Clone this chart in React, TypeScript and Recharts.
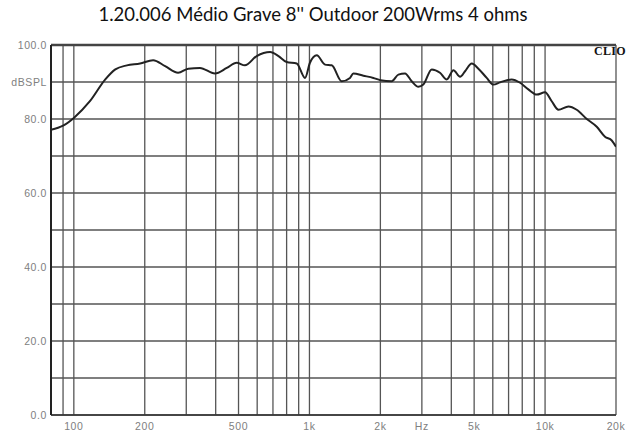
import { LineChart, Line, XAxis, YAxis, CartesianGrid, ReferenceLine } from 'recharts';

const title = "1.20.006 Médio Grave 8'' Outdoor 200Wrms 4 ohms";

// frequency (Hz) and level (dB SPL)
const freqs = [
  80, 90, 100, 117, 136, 150, 168, 191, 217, 244, 277, 306, 343, 397, 446, 491, 532, 597, 681, 739,
  800, 883, 958, 1005, 1074, 1165, 1243, 1371, 1486, 1535, 1694, 1867, 2002, 2234, 2384, 2544, 2716,
  2899, 3043, 3304, 3581, 3827, 4084, 4359, 4575, 4886, 5212, 5654, 6032, 6440, 7211, 7834, 8492,
  9215, 10000, 10670, 11400, 12570, 13620, 15030, 16570, 17960, 19190, 20000,
];
const spl = [
  77.1, 78.2, 80.3, 84.8, 90.7, 93.4, 94.5, 95.0, 95.9, 94.3, 92.5, 93.6, 93.8, 92.3, 93.8, 95.2, 94.5,
  97.0, 98.1, 97.0, 95.4, 95.0, 91.1, 95.2, 97.2, 94.7, 94.5, 90.2, 91.1, 92.3, 91.7, 91.1, 90.5, 90.2,
  92.0, 92.3, 90.2, 88.7, 89.3, 93.4, 92.5, 90.7, 93.2, 91.4, 92.9, 95.0, 93.6, 91.1, 89.3, 89.9, 90.7,
  89.8, 88.0, 86.6, 87.2, 84.8, 82.5, 83.4, 82.5, 80.0, 77.9, 75.2, 74.2, 72.5,
];

const xTicks = [90, 100, 200, 300, 400, 500, 600, 700, 800, 900, 1000, 2000, 3000, 4000, 5000, 6000, 7000, 8000, 9000, 10000, 20000];
const xLabels: Record<number, string> = {
  100: '100', 200: '200', 500: '500', 1000: '1k', 2000: '2k', 3000: 'Hz', 5000: '5k', 10000: '10k', 20000: '20k',
};
const yTicks = [0, 10, 20, 30, 40, 50, 60, 70, 80, 90, 100];
const yLabels: Record<number, string> = {
  0: '0.0', 20: '20.0', 40: '40.0', 60: '60.0', 80: '80.0', 90: 'dBSPL', 100: '100.0',
};

const data = freqs.map((f, i) => ({ f, spl: spl[i] }));

const tickStyle = { fill: '#808080', fontSize: 10.5, fontFamily: 'Liberation Sans, Arial, sans-serif', letterSpacing: 0.6 };

export default function App() {
  return (
    <div style={{ position: 'absolute', left: 0, top: 0, width: 626, height: 434, background: '#fff' }}>
      <div
        style={{
          position: 'absolute', left: 0, top: 1, width: 626, textAlign: 'center',
          fontFamily: 'Lato, "Open Sans", sans-serif', fontSize: 18.5, lineHeight: '26px', color: '#111',
        }}
      >
        {title}
      </div>
      <LineChart width={626} height={434} data={data} margin={{ top: 45, right: 10, bottom: 0, left: 0 }}>
        <CartesianGrid stroke="#555" strokeWidth={1.3} />
        <XAxis
          dataKey="f"
          type="number"
          scale="log"
          domain={[80, 20000]}
          ticks={xTicks}
          interval={0}
          tickFormatter={(v: number) => xLabels[v] ?? ''}
          tick={tickStyle}
          tickLine={false}
          axisLine={{ stroke: '#333', strokeWidth: 1.5 }}
          height={19}
          allowDataOverflow
        />
        <YAxis
          type="number"
          domain={[0, 100]}
          ticks={yTicks}
          interval={0}
          tickFormatter={(v: number) => yLabels[v] ?? ''}
          tick={tickStyle}
          tickLine={false}
          tickSize={2}
          tickMargin={2}
          axisLine={{ stroke: '#222', strokeWidth: 2 }}
          width={51}
        />
        <ReferenceLine y={100} stroke="#444" strokeWidth={2.5} />
        <Line
          type="monotone"
          dataKey="spl"
          stroke="#222"
          strokeWidth={2}
          dot={false}
          isAnimationActive={false}
        />
      </LineChart>
      <div
        style={{
          position: 'absolute', left: 594, top: 44, fontFamily: '"Liberation Serif", serif',
          fontWeight: 'bold', fontSize: 12, color: '#111', letterSpacing: 0.3,
        }}
      >
        CLIO
      </div>
    </div>
  );
}
